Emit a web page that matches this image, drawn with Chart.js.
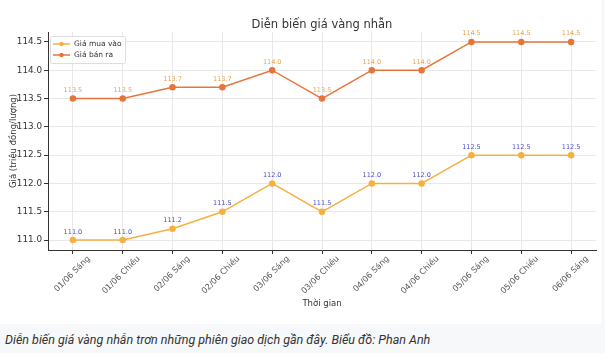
<!DOCTYPE html>
<html>
<head>
<meta charset="utf-8">
<script src="https://cdn.jsdelivr.net/npm/chart.js@4.4.1/dist/chart.umd.min.js"></script>
<style>
    body { margin: 0; background: #f7f8fa; width: 605px; height: 353px; overflow: hidden; font-family: 'DejaVu Sans', sans-serif; }
    #wrap { position: absolute; left: 0; top: 0; width: 601px; height: 324px; background: #fff; }
    #caption { position: absolute; left: 5px; top: 332px; font-family: Roboto, sans-serif; font-style: italic; font-size: 12.5px; color: #333; white-space: nowrap; }
</style>
</head>
<body>
<div id="wrap"><canvas id="goldChart"></canvas></div>
<div id="caption">Diễn biến giá vàng nhẫn trơn những phiên giao dịch gần đây. Biểu đồ: Phan Anh</div>
<script>
// Data
const sessions = ['01/06 Sáng', '01/06 Chiều', '02/06 Sáng', '02/06 Chiều', '03/06 Sáng', '03/06 Chiều',
    '04/06 Sáng', '04/06 Chiều', '05/06 Sáng', '05/06 Chiều', '06/06 Sáng'];
const buyPrices = [111.0, 111.0, 111.2, 111.5, 112.0, 111.5, 112.0, 112.0, 112.5, 112.5, 112.5];
const sellPrices = [113.5, 113.5, 113.7, 113.7, 114.0, 113.5, 114.0, 114.0, 114.5, 114.5, 114.5];
const yTicks = [111.0, 111.5, 112.0, 112.5, 113.0, 113.5, 114.0, 114.5];

const BUY_COLOR = '#f5b041';
const SELL_COLOR = '#e8743b';
const labelColors = ['#4a4ad0', '#eba24e'];
const chartTitle = 'Diễn biến giá vàng nhẫn';

// Title centred over the plot area (not the whole canvas)
const plotTitle = {
    id: 'plotTitle',
    afterDraw(chart) {
        const ctx = chart.ctx;
        const area = chart.chartArea;
        ctx.save();
        ctx.font = '11.5px "DejaVu Sans"';
        ctx.fillStyle = '#333';
        ctx.textAlign = 'center';
        ctx.textBaseline = 'alphabetic';
        ctx.fillText(chartTitle, (area.left + area.right) / 2, 28);
        ctx.restore();
    }
};

// Value labels above each point
const pointLabels = {
    id: 'pointLabels',
    afterDatasetsDraw(chart) {
        const ctx = chart.ctx;
        ctx.save();
        ctx.font = '6.5px "DejaVu Sans"';
        ctx.textAlign = 'center';
        ctx.textBaseline = 'bottom';
        chart.data.datasets.forEach((ds, i) => {
            ctx.fillStyle = labelColors[i];
            chart.getDatasetMeta(i).data.forEach((pt, j) => {
                ctx.fillText(ds.data[j].toFixed(1), pt.x, pt.y - 5);
            });
        });
        ctx.restore();
    }
};

// Legend drawn inside the plot, top-left
const innerLegend = {
    id: 'innerLegend',
    afterDraw(chart) {
        const ctx = chart.ctx;
        const area = chart.chartArea;
        const x = area.left + 2, y = area.top + 4;
        ctx.save();
        ctx.fillStyle = 'rgba(255,255,255,0.85)';
        ctx.strokeStyle = '#dddddd';
        ctx.lineWidth = 1;
        ctx.beginPath();
        ctx.roundRect(x + 0.5, y + 0.5, 75, 27, 2);
        ctx.fill();
        ctx.stroke();
        ctx.font = '7.5px "DejaVu Sans"';
        ctx.textBaseline = 'middle';
        chart.data.datasets.forEach((ds, i) => {
            const ly = y + 8 + i * 11;
            ctx.strokeStyle = ds.borderColor;
            ctx.lineWidth = 1.5;
            ctx.beginPath();
            ctx.moveTo(x + 3, ly);
            ctx.lineTo(x + 20, ly);
            ctx.stroke();
            ctx.fillStyle = ds.borderColor;
            ctx.beginPath();
            ctx.arc(x + 11.5, ly, 2.2, 0, Math.PI * 2);
            ctx.fill();
            ctx.fillStyle = '#333';
            ctx.fillText(ds.label, x + 24, ly + 0.5);
        });
        ctx.restore();
    }
};

new Chart(document.getElementById('goldChart'), {
    type: 'line',
    data: {
        labels: sessions,
        datasets: [
            {
                label: 'Giá mua vào',
                data: buyPrices,
                borderColor: BUY_COLOR,
                backgroundColor: BUY_COLOR,
                borderWidth: 1.5,
                pointRadius: 2.5,
                pointHoverRadius: 2.5,
                tension: 0
            },
            {
                label: 'Giá bán ra',
                data: sellPrices,
                borderColor: SELL_COLOR,
                backgroundColor: SELL_COLOR,
                borderWidth: 1.5,
                pointRadius: 2.5,
                pointHoverRadius: 2.5,
                tension: 0
            }
        ]
    },
    options: {
        responsive: true,
        maintainAspectRatio: false,
        animation: false,
        layout: { padding: { left: 0, right: 5, top: 32, bottom: 15 } },
        plugins: {
            legend: { display: false },
            tooltip: { enabled: false },
            title: { display: false }
        },
        scales: {
            x: {
                offset: true,
                grid: { offset: false, color: '#e8e8e8', tickColor: '#333', tickLength: 4 },
                border: { color: '#333', width: 1 },
                ticks: {
                    color: '#555',
                    font: { family: 'DejaVu Sans', size: 8.2 },
                    minRotation: 45,
                    maxRotation: 45,
                    labelOffset: 16,
                    padding: 0
                },
                title: {
                    display: true,
                    text: 'Thời gian',
                    color: '#333',
                    font: { family: 'DejaVu Sans', size: 8.5 },
                    padding: { top: 0, bottom: 0 }
                },
                afterFit: s => { s.height = 59; }
            },
            y: {
                min: 110.825,
                max: 114.675,
                grid: { color: '#e8e8e8', tickColor: '#333', tickLength: 4 },
                border: { color: '#333', width: 1 },
                afterBuildTicks: s => { s.ticks = yTicks.map(v => ({ value: v })); },
                ticks: {
                    color: '#333',
                    font: { family: 'DejaVu Sans', size: 8.8 },
                    padding: 2,
                    callback: v => Number(v).toFixed(1)
                },
                title: {
                    display: true,
                    text: 'Giá (triệu đồng/lượng)',
                    color: '#333',
                    font: { family: 'DejaVu Sans', size: 8.5 },
                    padding: { top: 9, bottom: 2 }
                },
                afterFit: s => { s.width = 48; }
            }
        }
    },
    plugins: [plotTitle, pointLabels, innerLegend]
});
</script>
</body>
</html>
